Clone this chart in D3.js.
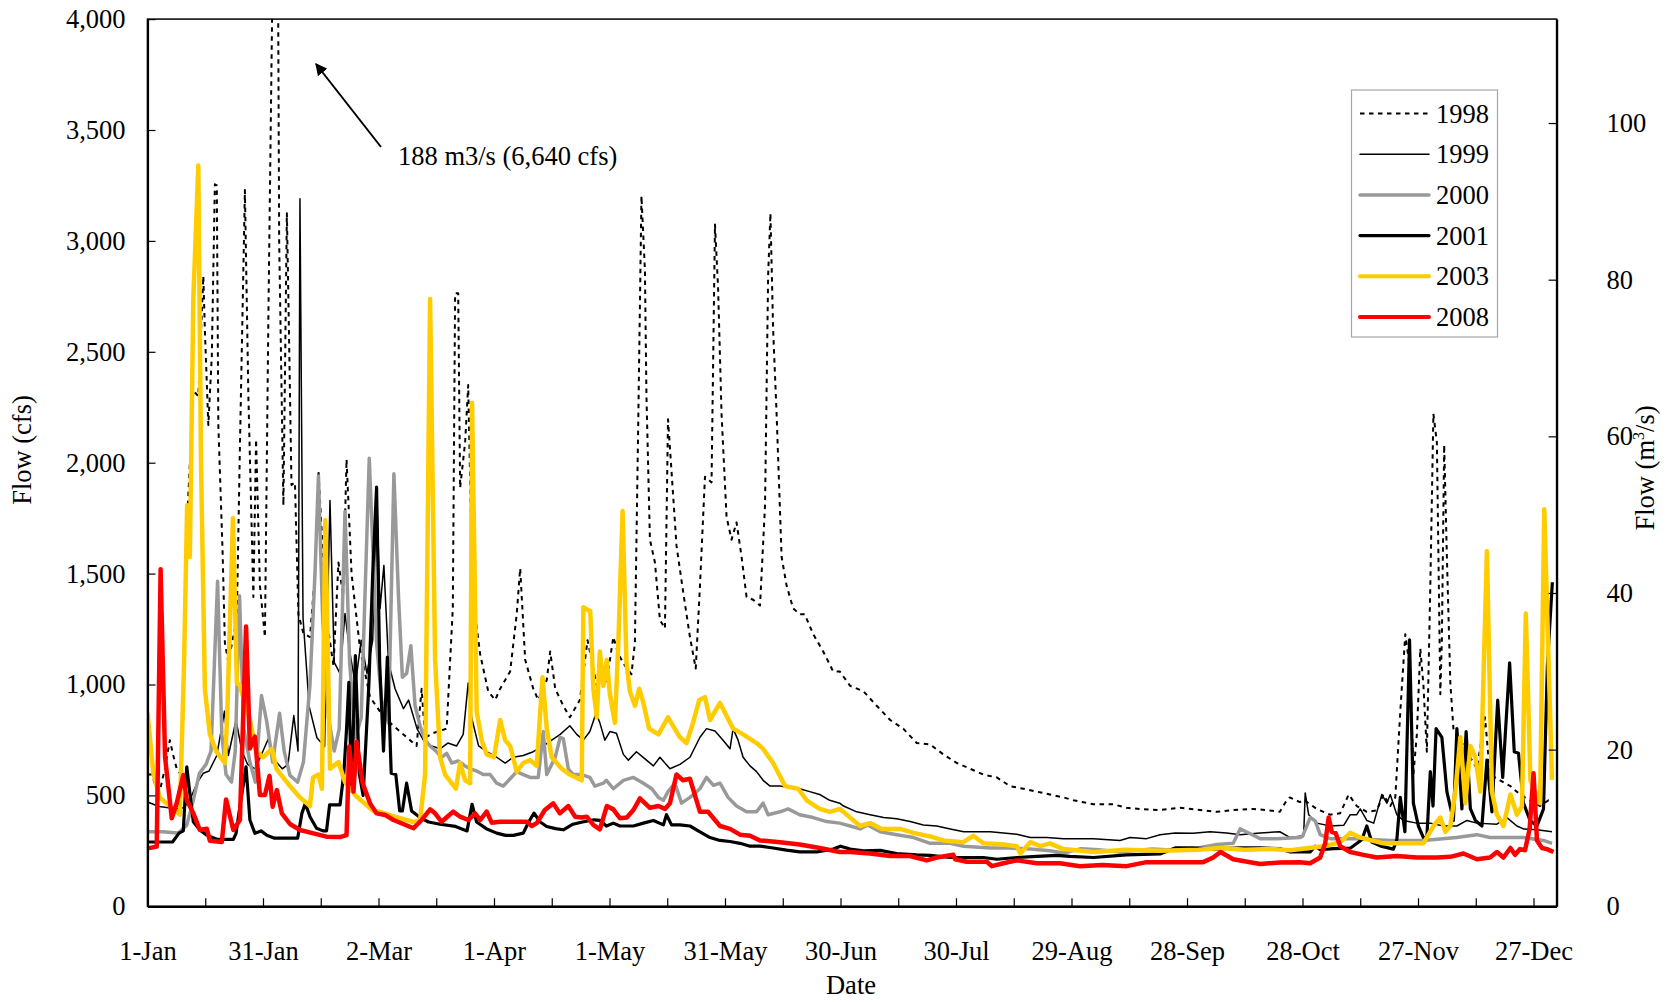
<!DOCTYPE html>
<html>
<head>
<meta charset="utf-8">
<script src="https://cdn.jsdelivr.net/npm/d3@7"></script>
<style>
  body { margin: 0; background: #fff; }
  svg { display: block; }
  text { font-family: "Liberation Serif", "Times New Roman", serif; fill: #000; }
</style>
</head>
<body>
<svg id="chart" width="1666" height="1002"></svg>
<script>
// Daily flow by day of year (0 = 1-Jan), in cfs, as [day, flow] pairs.
const dateLabels = ["1-Jan","31-Jan","2-Mar","1-Apr","1-May","31-May","30-Jun","30-Jul","29-Aug","28-Sep","28-Oct","27-Nov","27-Dec"];
const cfsTicks = [0,500,1000,1500,2000,2500,3000,3500,4000];
const cmsTicks = [0,20,40,60,80,100];
const years = ["1998","1999","2000","2001","2003","2008"];

const flow1998 = [[0,594],[1.1,594],[2.4,530],[3.2,520],[4.5,620],[5.8,749],[6.7,680],[7.6,620],[8.4,600],[9.3,852],[10.2,1705],[11.9,2325],[13.2,2300],[14.5,2841],[14.9,2600],[15.8,2170],[16.7,2480],[17.5,3255],[18,3250],[18.4,2170],[19.5,1601],[20.1,1188],[21,1100],[23.2,1300],[24,2066],[25.3,3229],[26.2,2300],[27.5,1395],[28.2,2105],[29.2,1446],[30.5,1214],[31.4,2660],[32.5,4200],[33.3,6640],[34.2,3000],[35.3,1808],[36.2,3125],[36.6,2738],[37.4,1900],[38.3,1911],[39.2,1317],[40.5,1230],[42.2,1214],[43.5,1500],[44.4,1963],[45.2,1705],[46.5,1300],[48.3,1085],[49.6,1550],[50.8,1400],[51.7,2015],[53,1500],[55.2,1162],[57.8,943],[60.4,878],[63,827],[65.6,788],[68.2,749],[69.9,723],[71.2,981],[72.1,760],[74,780],[77.7,801],[79.3,1343],[79.9,2764],[80.7,2764],[81.2,1886],[82.5,2092],[83.3,2350],[84.2,1576],[85.1,1317],[86.4,1137],[88.5,969],[90.3,930],[91.6,981],[94.2,1059],[95.9,1317],[96.8,1524],[98.1,1111],[100.2,981],[101.5,930],[103.7,1020],[104.6,1149],[105.9,981],[108,904],[109.7,852],[112.3,930],[114.3,1200],[116.7,994],[118.4,1085],[119.2,1007],[121,1214],[122.3,1137],[124,1085],[125.7,1046],[126.6,1188],[127.5,2221],[128.3,3203],[129.2,2867],[129.6,2299],[130.5,1653],[131.8,1550],[133.1,1291],[134.4,1253],[135.2,2196],[136.1,1963],[137.4,1627],[139.1,1421],[140.9,1214],[142.4,1072],[143.5,1446],[144.8,1937],[146.5,1911],[147.4,3074],[148.2,2790],[149.1,2221],[150.4,1756],[151.7,1653],[153,1731],[154.3,1576],[155.6,1395],[157.3,1382],[159.1,1356],[160.4,1808],[161.2,2841],[161.8,3125],[162.5,2600],[163.4,2221],[164.7,1576],[166,1446],[167.7,1343],[169.4,1317],[170.7,1317],[172.9,1227],[175.5,1149],[178.1,1059],[179.8,1059],[182.5,994],[186,969],[189.4,904],[192.9,840],[196.3,801],[199.8,736],[203.3,730],[206.7,685],[210.2,646],[213.7,620],[217.1,594],[220.6,581],[224,542],[227.5,530],[231,517],[234.4,504],[237.9,491],[240.5,478],[245.7,460],[250.9,460],[254.3,444],[257.8,439],[263,434],[268.2,444],[273.4,434],[277.7,426],[282,434],[287.2,439],[290.7,434],[294.1,426],[295.9,478],[296.7,491],[299.3,470],[300.3,480],[303.7,439],[307.2,413],[309.8,420],[312,504],[314.1,452],[316.7,426],[319.3,432],[321,504],[322.8,452],[324.1,491],[325.4,878],[326.7,1227],[328,1059],[328.8,594],[329.7,775],[330.6,1162],[331.4,1000],[332.3,697],[333.2,1446],[334,2220],[334.9,2092],[335.8,956],[336.2,1200],[336.8,2080],[337.5,1576],[338.4,1007],[339.2,801],[341,749],[342.7,697],[345.3,620],[347.4,852],[348.7,594],[351.3,568],[354,542],[356.5,504],[359.1,478],[361.7,452],[363.9,478],[364.8,470]];

const flow1999 = [[0,470],[3,450],[5,445],[8,440],[9.5,445],[11,480],[13,560],[14.5,600],[16,610],[18,680],[20,880],[21,680],[23,840],[24.5,700],[26,640],[28,620],[30,700],[31.5,760],[33,660],[35,620],[36.5,640],[38,860],[39.1,700],[39.6,3190],[40.4,1300],[42,900],[44,760],[46,720],[47.4,1830],[48.5,1100],[50,1050],[51.3,1320],[52.5,1150],[54,1000],[55.5,1200],[57,1050],[58.5,1200],[59.5,1886],[60.4,1343],[61.4,1537],[62.6,1100],[64.3,981],[66.5,891],[67.8,930],[70,801],[72.1,736],[73.8,723],[76,710],[78,736],[80.3,723],[82,775],[83.3,1007],[84.2,850],[86,723],[88.1,697],[90.7,672],[92.9,646],[95,672],[97.6,680],[100.2,697],[102.8,723],[105,749],[107.2,775],[109.7,814],[111.5,775],[113.2,749],[114.9,788],[116.5,870],[117.5,827],[118.8,749],[120.1,788],[121.8,780],[123.6,685],[124.9,659],[127,697],[129.6,659],[131.4,633],[133.1,672],[135.7,620],[138.3,640],[140.9,672],[143.5,762],[145.2,801],[147.4,790],[149.5,749],[151.3,710],[152.1,801],[153.4,749],[154.7,672],[156.5,633],[158.2,607],[159.9,568],[161.7,542],[164.3,542],[166.9,535],[169.4,530],[172,517],[174.6,504],[177.2,478],[179.8,465],[180.8,452],[184.2,426],[187.7,413],[191.2,400],[194.6,395],[198.1,382],[201.5,367],[205,362],[208.5,349],[212,336],[215.4,336],[218.9,336],[222.3,331],[225.8,325],[229.3,310],[233.6,310],[237.9,305],[245.7,305],[252.6,297],[255.2,310],[259.5,305],[263,323],[266.9,331],[271.6,329],[276,336],[280.3,331],[283.8,323],[289,331],[294.1,336],[296.8,310],[300.3,318],[300.7,511],[301.6,413],[303.7,375],[307.2,362],[310.7,365],[312.4,413],[314.1,413],[315,439],[316.7,387],[318.5,375],[320.6,504],[321.9,465],[322.8,504],[324.5,413],[326.2,387],[329.7,375],[333.2,375],[336.6,362],[340.1,362],[342.7,387],[345.3,375],[350.5,370],[353.1,400],[355.7,362],[357.4,349],[360.9,345],[364.8,336]];

const flow2000 = [[0,336],[4,336],[7.6,330],[8.4,336],[10.2,366],[11.9,479],[13.5,600],[15.2,640],[16.5,700],[18.2,1465],[19.3,775],[20.4,594],[21.8,560],[22.8,700],[23.9,1400],[25,800],[26.6,650],[28,560],[29.6,950],[31,830],[32.5,650],[34.3,870],[35.5,700],[37,590],[39,560],[40.5,650],[42.2,1000],[43.5,1500],[44.4,1940],[45.5,1300],[47,850],[48.5,700],[49.8,800],[51.3,1780],[52.5,1100],[54,760],[55.5,850],[57.6,2020],[59.5,1188],[60.8,930],[62.6,827],[64,1950],[65.2,1395],[66.2,1033],[67.3,1050],[68.4,1175],[69.5,904],[70.8,814],[72.1,749],[73.4,723],[75.1,697],[76.4,672],[77.7,690],[79,646],[80.7,655],[82.5,633],[83.8,620],[85.5,610],[87.2,594],[89,594],[90.7,555],[92.4,542],[94.2,575],[95.9,607],[97.6,594],[99.4,581],[101.5,581],[102.8,788],[103.7,594],[105.9,672],[107.2,762],[108,755],[109.3,620],[110.6,594],[112.8,594],[114.9,581],[116.2,542],[118.4,555],[119.2,568],[121,530],[123.6,568],[126.2,581],[128.8,555],[131,530],[132.7,491],[134,478],[135.2,517],[137,555],[138.7,465],[140.9,491],[143.5,530],[145.2,581],[147,545],[148.7,555],[150.8,491],[153,452],[155.6,426],[158.2,426],[159.9,465],[161.2,413],[164.3,426],[166.4,439],[169.4,413],[172.9,400],[176.4,382],[179.8,375],[182.5,362],[185.1,349],[187,367],[190.3,336],[194.6,323],[199,310],[203.3,284],[208.5,284],[212,271],[218.9,263],[224,263],[229.3,258],[234.4,250],[238,240],[242.5,260],[247,255],[252.6,245],[256,250],[261,258],[267.3,253],[271.6,258],[277.7,279],[282,284],[283.8,349],[285.5,335],[289,305],[293.3,305],[299.3,310],[300,315],[302,400],[303.3,385],[304.6,323],[307.2,305],[314,305],[322.8,297],[331.4,297],[340,310],[345.3,323],[348.7,310],[357.4,310],[362.6,297],[364.8,284]];

const flow2001 = [[0,290],[6.5,290],[8.2,330],[9.3,340],[10.2,629],[11,510],[11.9,381],[13.6,344],[15.4,321],[18,302],[22.3,302],[23,329],[24,449],[25.6,629],[26.6,389],[27.9,329],[29.5,340],[31,320],[33,307],[36,307],[39,307],[40.1,419],[41,464],[42.2,404],[43.9,352],[45.6,340],[46.5,340],[47.3,457],[50,457],[51,600],[51.7,800],[52.3,1010],[53,520],[54,1130],[55,600],[56,500],[57.5,1000],[58.5,1500],[59.5,1890],[60.3,1100],[61.3,700],[62.3,1124],[63.3,600],[64.5,594],[65.5,430],[66.2,430],[67.3,555],[68.6,430],[70.8,400],[73,380],[76,370],[80,360],[83,340],[84.3,460],[85.5,380],[88,350],[90.7,330],[93,320],[95,320],[97.6,330],[99,380],[100.4,420],[102,380],[103.7,360],[106,350],[108,345],[110.5,370],[113,380],[116,390],[117.5,387],[119.2,362],[121,375],[122.7,362],[124.4,362],[126.2,362],[128.8,375],[131.4,387],[134,367],[134.8,413],[136.1,367],[138.3,367],[140.9,362],[143.5,336],[146.1,310],[148.7,297],[151.3,292],[153.9,284],[156.5,271],[159.1,271],[162.5,263],[166,253],[169.4,245],[173.8,245],[178.1,258],[180,271],[182.5,258],[186,250],[190.3,252],[194.6,238],[199.8,232],[203.3,230],[208.5,220],[212,220],[217.1,220],[220.6,212],[225.8,220],[231,225],[236.2,230],[239.6,225],[245.7,220],[254.3,232],[263,236],[266.9,263],[271.6,263],[276.8,258],[283.8,263],[289,263],[294.1,260],[296.8,245],[302,245],[303.3,271],[304.6,255],[308,260],[312.4,262],[315.4,300],[316.7,362],[318,290],[320.6,270],[323.6,258],[324.5,300],[325.4,491],[326.6,336],[327.8,1201],[328.8,465],[330.1,362],[331.4,310],[332.3,310],[333.2,607],[333.9,452],[334.7,801],[336.2,762],[337.5,517],[339.2,387],[340.1,801],[341.4,439],[342.5,788],[343.6,440],[344.9,387],[346.6,362],[347.9,659],[349.2,426],[350.7,930],[352,581],[353.8,1098],[355,697],[356.1,690],[357.4,465],[359.1,387],[360.9,362],[362.6,439],[363.6,1085],[364.9,1461]];

const flow2003 = [[0,873],[1.5,600],[3.2,490],[7.6,426],[8.4,413],[9.5,1100],[10.3,1808],[11,1575],[11.9,2738],[13.2,3340],[13.9,2000],[14.9,981],[16.2,775],[17.9,697],[20.1,646],[20.7,852],[22.2,1750],[23.2,1007],[24,994],[26.6,840],[28.2,700],[30,672],[32.3,710],[33.5,620],[37,542],[39.6,491],[42.2,452],[43,581],[44.4,594],[45.3,530],[46.2,1740],[47.4,620],[49.6,650],[51.3,560],[54.3,495],[58.7,430],[60.4,426],[64,405],[69.1,380],[70.8,387],[72.1,594],[73.4,2738],[74.7,1111],[76,672],[77.3,594],[80.1,530],[81.2,646],[82.5,568],[83.8,555],[84.3,2270],[85.5,878],[86.8,749],[88.1,685],[90,672],[91.6,840],[92.9,749],[94.2,723],[95.9,607],[97.6,646],[99.4,659],[101.1,633],[102.6,1033],[103.7,801],[105,672],[107.6,620],[109.7,594],[112.8,568],[113.2,1348],[115,1330],[115.8,981],[116.7,852],[117.5,1149],[118.4,994],[119.3,1111],[120.1,956],[121.4,827],[122.3,1188],[123.4,1782],[124.4,1100],[125.3,969],[126.6,904],[127.7,981],[128.8,917],[130.3,801],[132.7,775],[135.2,852],[138.3,762],[140,736],[141.7,827],[143.3,930],[144.8,943],[146.1,840],[148.7,917],[152.1,801],[154.7,775],[158.2,736],[159.9,710],[162.5,646],[165.6,542],[169,530],[171.2,478],[174.6,439],[177.2,426],[179.9,439],[182.5,400],[185.1,362],[187.7,375],[190.7,349],[195.5,349],[199,331],[203.3,315],[206.7,297],[211.9,289],[214.5,318],[217.1,284],[222.3,279],[225.8,271],[226.7,238],[229.3,289],[231.9,271],[234.4,284],[237.9,258],[245.7,245],[254,255],[263,250],[273,255],[278.6,263],[285,255],[292,258],[296.8,253],[305.5,271],[309.8,289],[312.4,331],[315,310],[321,284],[331.4,284],[334,362],[335.8,400],[337.1,336],[338.4,362],[339.7,517],[341,762],[342.3,465],[343.6,723],[344.9,672],[346.2,517],[347.9,1601],[349.2,517],[350.5,413],[352.2,362],[354,504],[355.7,413],[357,452],[358,1320],[359.2,568],[361.7,465],[362.8,1790],[364.8,570]];

const flow2008 = [[0,261],[2.4,269],[3.4,1520],[4.55,675],[6.3,397],[7.6,466],[9.3,592],[10.2,479],[11.9,420],[13.6,344],[15.4,350],[16.2,296],[19.3,290],[20.4,482],[22.3,344],[24,389],[25.6,1261],[26.6,712],[27.9,765],[29.2,502],[30.5,502],[31.7,588],[32.5,449],[33.6,524],[34.9,419],[37,371],[39.6,344],[43.1,329],[46.5,314],[50,312],[51.7,321],[52.4,720],[53.5,517],[54.3,742],[55.9,555],[57.8,464],[59.5,419],[61.7,412],[63.9,389],[66.4,371],[69.1,352],[71.2,389],[73.4,437],[74.7,419],[76.4,381],[78.1,407],[79.4,427],[81.2,404],[83.3,389],[85.1,419],[86.4,389],[88.1,427],[89.4,377],[91.6,381],[93.3,381],[98.5,381],[99.8,362],[101.1,375],[103.2,434],[105.4,464],[107.1,419],[109.3,452],[111.1,404],[112.8,400],[114.1,404],[115.8,367],[117.5,347],[119.3,452],[121,437],[122.7,397],[124.5,400],[126.2,434],[127.9,487],[130.5,444],[132.7,452],[134.4,439],[135.7,465],[137.4,594],[139.1,568],[140.9,575],[143.5,426],[145.6,426],[148.7,362],[151.3,349],[153.9,323],[156.5,318],[159.1,297],[164.3,289],[169.4,279],[174.6,263],[179.8,245],[182.5,245],[187.7,238],[192.9,227],[198,227],[202.4,207],[205,220],[209.3,232],[209.8,212],[212.8,201],[218,201],[219.3,181],[222.3,194],[225.8,207],[231,194],[237,194],[242.2,181],[248,186],[254.3,181],[259.5,199],[274.2,199],[276.8,220],[278.7,245],[282,212],[289,191],[294,197],[299.3,199],[302,194],[304.6,220],[305.9,284],[306.8,400],[307.6,336],[308.6,330],[309.8,271],[312.4,245],[315.8,232],[319.3,220],[324.5,227],[329.7,220],[334.9,220],[338.4,223],[341.8,238],[345.3,212],[348.7,220],[350.5,245],[352.2,220],[354,263],[355.2,232],[356.5,258],[357.8,253],[359,349],[360,600],[360.9,297],[362.2,263],[363.5,258],[365.2,245]];

const seriesData = [flow1998, flow1999, flow2000, flow2001, flow2003, flow2008];
const seriesStyle = [
  { color: "#000000", width: 2,   dash: "4.5,4.5" },
  { color: "#000000", width: 1.5, dash: null },
  { color: "#999999", width: 3.5, dash: null },
  { color: "#000000", width: 3.2, dash: null },
  { color: "#FFCC00", width: 4.5, dash: null },
  { color: "#FF0000", width: 4.5, dash: null }
];

const CFS_PER_CMS = 35.3147;
const plot = { left: 147.5, right: 1556.6, top: 19.1, bottom: 906.3 };

const svg = d3.select("#chart");
const x = d3.scaleLinear().domain([0, 366]).range([plot.left, plot.right]);
const y = d3.scaleLinear().domain([0, 4000]).range([plot.bottom, plot.top]);
const yRight = d3.scaleLinear().domain([0, 4000 / CFS_PER_CMS]).range([plot.bottom, plot.top]);

svg.append("defs").append("clipPath").attr("id", "plotClip")
  .append("rect")
  .attr("x", plot.left).attr("y", plot.top)
  .attr("width", plot.right - plot.left).attr("height", plot.bottom - plot.top);

// Series lines
const line = d3.line().x(d => x(d[0])).y(d => y(d[1])).curve(d3.curveLinear);
const lines = svg.append("g").attr("clip-path", "url(#plotClip)");
seriesData.forEach((data, i) => {
  const st = seriesStyle[i];
  lines.append("path")
    .datum(data)
    .attr("d", line)
    .attr("fill", "none")
    .attr("stroke", st.color)
    .attr("stroke-width", st.width)
    .attr("stroke-linejoin", "round")
    .attr("stroke-dasharray", st.dash);
});

// Plot frame
svg.append("rect")
  .attr("x", plot.left).attr("y", plot.top)
  .attr("width", plot.right - plot.left).attr("height", plot.bottom - plot.top)
  .attr("fill", "none").attr("stroke", "#000").attr("stroke-width", 1.5);

const FONT = 26.5;

// Bottom axis: ticks every 15 days, labels every 30 days
const dayTicks = d3.range(0, 361, 15);
const xAxis = d3.axisBottom(x)
  .tickValues(dayTicks)
  .tickSizeInner(-8).tickSizeOuter(0)
  .tickPadding(35)
  .tickFormat(d => (d % 30 === 0 ? dateLabels[d / 30] : ""));
const gx = svg.append("g").attr("transform", `translate(0,${plot.bottom})`).call(xAxis);
gx.select(".domain").attr("stroke", "#000").attr("stroke-width", 2.2);
gx.selectAll(".tick line").attr("stroke", "#000").attr("stroke-width", 1.2);
gx.selectAll(".tick text").attr("font-size", FONT).attr("font-family", "Liberation Serif");

// Left axis (cfs)
const yAxis = d3.axisLeft(y)
  .tickValues(cfsTicks)
  .tickSizeInner(-8).tickSizeOuter(0)
  .tickPadding(22)
  .tickFormat(d3.format(","));
const gy = svg.append("g").attr("transform", `translate(${plot.left},0)`).call(yAxis);
gy.select(".domain").attr("stroke", "#000").attr("stroke-width", 2.2);
gy.selectAll(".tick line").attr("stroke", "#000").attr("stroke-width", 1.2);
gy.selectAll(".tick text").attr("font-size", FONT).attr("font-family", "Liberation Serif");

// Right axis (m3/s)
const yAxisR = d3.axisRight(yRight)
  .tickValues(cmsTicks)
  .tickSizeInner(-8).tickSizeOuter(0)
  .tickPadding(50);
const gyr = svg.append("g").attr("transform", `translate(${plot.right},0)`).call(yAxisR);
gyr.select(".domain").attr("stroke", "#000").attr("stroke-width", 2.2);
gyr.selectAll(".tick line").attr("stroke", "#000").attr("stroke-width", 1.2);
gyr.selectAll(".tick text").attr("font-size", FONT).attr("font-family", "Liberation Serif");

// Axis titles
svg.append("text")
  .attr("x", 851).attr("y", 994)
  .attr("text-anchor", "middle").attr("font-size", FONT)
  .text("Date");

svg.append("text")
  .attr("transform", "translate(31,450) rotate(-90)")
  .attr("text-anchor", "middle").attr("font-size", FONT)
  .text("Flow (cfs)");

const rTitle = svg.append("text")
  .attr("transform", "translate(1654,468) rotate(-90)")
  .attr("text-anchor", "middle").attr("font-size", FONT);
rTitle.append("tspan").text("Flow (m");
rTitle.append("tspan").attr("font-size", 16).attr("dy", -10).text("3");
rTitle.append("tspan").attr("dy", 10).text("/s)");

// Annotation for the off-scale peak
svg.append("defs").append("marker")
  .attr("id", "arrowHead")
  .attr("viewBox", "0 0 10 10").attr("refX", 9).attr("refY", 5)
  .attr("markerWidth", 6).attr("markerHeight", 6)
  .attr("markerUnits", "strokeWidth")
  .attr("orient", "auto")
  .append("path").attr("d", "M0,0 L10,5 L0,10 z").attr("fill", "#000");

svg.append("line")
  .attr("x1", 381).attr("y1", 147)
  .attr("x2", 316).attr("y2", 64)
  .attr("stroke", "#000").attr("stroke-width", 2)
  .attr("marker-end", "url(#arrowHead)");

svg.append("text")
  .attr("x", 398).attr("y", 165)
  .attr("font-size", FONT)
  .text("188 m3/s (6,640 cfs)");

// Legend
const legend = svg.append("g");
legend.append("rect")
  .attr("x", 1351.5).attr("y", 90)
  .attr("width", 146).attr("height", 247)
  .attr("fill", "#fff").attr("stroke", "#a6a6a6").attr("stroke-width", 1.2);
years.forEach((yr, i) => {
  const cy = 113.5 + i * 40.7;
  const st = seriesStyle[i];
  legend.append("line")
    .attr("x1", 1360).attr("x2", 1429)
    .attr("y1", cy).attr("y2", cy)
    .attr("stroke", st.color)
    .attr("stroke-width", Math.min(st.width, 4))
    .attr("stroke-linecap", st.dash ? "butt" : "round")
    .attr("stroke-dasharray", st.dash);
  legend.append("text")
    .attr("x", 1436).attr("y", cy + 9)
    .attr("font-size", FONT)
    .text(yr);
});
</script>
</body>
</html>
